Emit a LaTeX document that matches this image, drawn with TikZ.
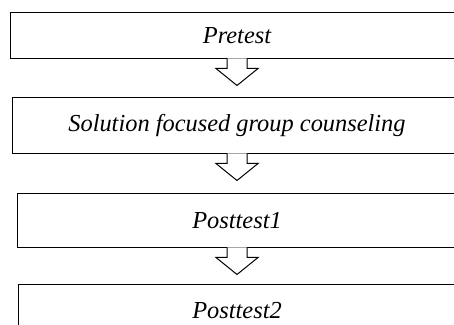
\documentclass[tikz,border=0pt]{standalone}
\usepackage{fontspec}
\setmainfont{Liberation Serif}
\usetikzlibrary{positioning,calc}

\tikzstyle{stage}=[rectangle,draw=black,line width=0.5pt,text centered,font=\itshape\fontsize{12.2}{14}\selectfont]
\tikzstyle{flow}=[draw=black,fill=white,line width=0.5pt,line join=miter]

\begin{document}
\begin{tikzpicture}
\begin{scope}
\clip (0,0) rectangle (227pt,-162.5pt);
\node(pretest)[stage,minimum width=227pt,minimum height=23pt] at (118.5pt,-18pt){Pretest};
\node(counseling)[stage,minimum width=225pt,minimum height=28pt,below=19pt of pretest]{Solution focused group counseling};
\node(posttestone)[stage,minimum width=220pt,minimum height=27pt,below=19.5pt of counseling]{Posttest1};
\node(posttesttwo)[stage,minimum width=219pt,minimum height=27pt,below=17.5pt of posttestone]{Posttest2};
\foreach \from in {pretest,counseling,posttestone}
  \path[flow] ($(\from.south)+(-5pt,0.6pt)$) -- ++(0,-5.1pt) -- ++(-5.5pt,0) -- ($(\from.south)+(0,-13pt)$) -- ($(\from.south)+(10.5pt,-4.5pt)$) -- ++(-5.5pt,0) -- ++(0,5.1pt);
\end{scope}
\pgfresetboundingbox
\useasboundingbox (0,0) rectangle (227pt,-162.5pt);
\end{tikzpicture}
\end{document}
